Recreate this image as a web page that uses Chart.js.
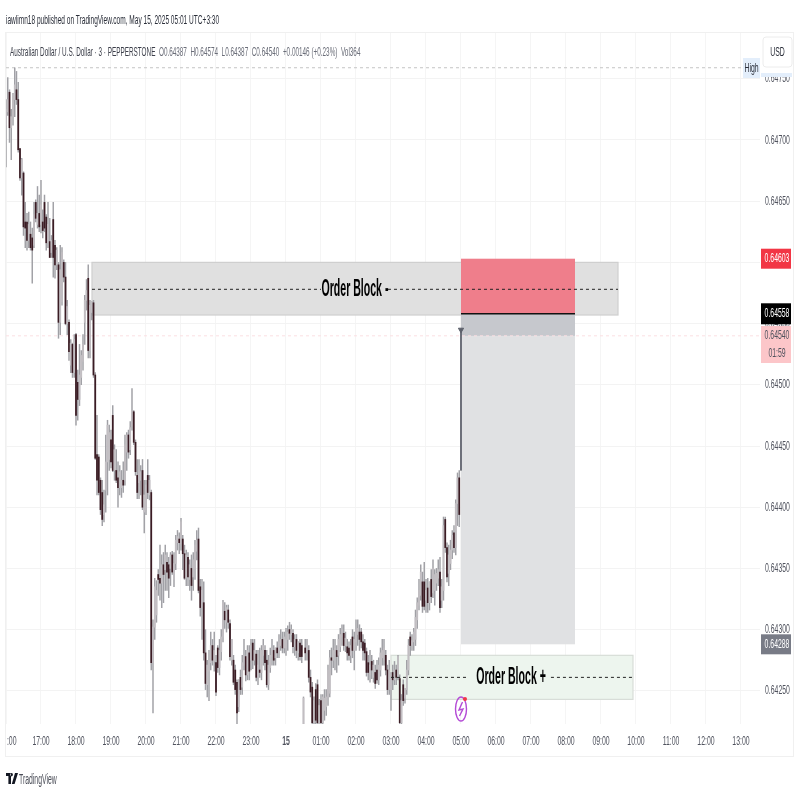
<!DOCTYPE html>
<html>
<head>
<meta charset="utf-8">
<title>AUDUSD 3m</title>
<script src="https://cdn.jsdelivr.net/npm/chart.js@4"></script>
<style>
body{margin:0;background:#fff;font-family:"Liberation Sans",sans-serif;}
#wrap{position:relative;width:800px;height:800px;overflow:hidden;filter:blur(.4px);}
canvas{position:absolute;left:0;top:0;}
#frame{position:absolute;left:5px;top:32px;width:789px;height:725px;border:1px solid #f0f0f0;box-sizing:border-box;pointer-events:none;}
.txt{position:absolute;white-space:pre;transform-origin:0 0;}
#pub{left:6px;top:12px;font-size:13px;color:#2a2e39;transform:scaleX(.504);}
#legend{left:10px;top:44px;font-size:13px;color:#3c3f4a;transform:scaleX(.49);}
#legend span{color:#6a6d78;}
#brand{left:19px;top:771px;font-size:14px;color:#4a4d57;transform:scaleX(.49);}
#logo{position:absolute;left:6px;top:773px;}
</style>
</head>
<body>
<div id="wrap">
<canvas id="myChart" width="800" height="800"></canvas>
<div id="frame"></div>
<div class="txt" id="pub">iawlimn18 published on TradingView.com, May 15, 2025 05:01 UTC+3:30</div>
<div class="txt" id="legend">Australian Dollar / U.S. Dollar · 3 · PEPPERSTONE  <span>O0.64387  H0.64574  L0.64387  C0.64540  +0.00146 (+0.23%)  Vol364</span></div>
<svg id="logo" width="12" height="12" viewBox="0 0 12 12"><path d="M0 0h5v11H2.4V3H0z M5.6 0a1.3 1.6 0 1 0 .01 0z M9 0h3L8.6 11H5.8z" fill="#131722"/></svg>
<div class="txt" id="brand">TradingView</div>
</div>
<script>
// prices are in points (1 point = 0.00001), one candle every 3 minutes from 16:00
var opens = [
64712,64723,64739,64710,64719,64733,64741,64733,64693,64669,64673,64633,64633,64618,64623,64620,64614,64649,64631,64640,
64631,64633,64649,64637,64616,64617,64608,64635,64614,64598,64598,64551,64568,64600,64588,64550,64551,64516,64533,64510,
64541,64502,64488,64506,64519,64551,64569,64587,64528,64559,64567,64508,64443,64441,64422,64412,64394,64414,64437,64439,
64455,64475,64430,64430,64424,64416,64416,64422,64422,64445,64459,64447,64466,64478,64453,64426,64420,64422,64430,64396,
64398,64426,64410,64412,64273,64302,64312,64345,64342,64338,64353,64349,64355,64353,64350,64361,64341,64354,64371,64374,
64370,64374,64362,64342,64359,64341,64350,64343,64350,64364,64374,64335,64318,64322,64281,64255,64266,64273,64287,64274,
64273,64285,64269,64282,64294,64315,64306,64316,64305,64275,64275,64267,64257,64237,64261,64253,64271,64278,64263,64281,
64275,64289,64275,64280,64261,64267,64265,64279,64283,64275,64255,64269,64278,64283,64277,64285,64281,64287,64292,64285,
64285,64292,64300,64296,64297,64286,64292,64281,64289,64287,64223,64285,64281,64283,64261,64253,64224,64251,64255,64223,
64242,64224,64234,64237,64245,64248,64277,64275,64279,64283,64279,64286,64294,64297,64287,64286,64285,64279,64294,64283,
64290,64296,64298,64298,64290,64289,64282,64273,64263,64274,64261,64265,64267,64259,64267,64277,64275,64279,64267,64251,
64251,64265,64259,64267,64261,64260,64224,64255,64244,64251,64267,64294,64287,64290,64292,64308,64320,64328,64339,64339,
64324,64334,64322,64341,64330,64332,64338,64342,64347,64324,64332,64390,64367,64346,64354,64365,64379,64367,64403,64424];
var highs = [
64733,64751,64741,64725,64738,64759,64756,64747,64693,64685,64674,64649,64640,64641,64633,64628,64649,64651,64662,64655,
64667,64643,64655,64639,64649,64636,64622,64649,64618,64612,64600,64614,64612,64602,64600,64569,64553,64537,64534,64541,
64542,64512,64533,64528,64541,64573,64586,64598,64569,64568,64569,64510,64475,64443,64424,64422,64414,64459,64471,64467,
64463,64483,64451,64447,64437,64434,64430,64437,64459,64461,64463,64470,64497,64479,64455,64439,64439,64434,64439,64422,
64422,64439,64426,64414,64308,64342,64340,64349,64369,64361,64363,64369,64363,64359,64363,64364,64363,64377,64381,64379,
64391,64377,64369,64365,64363,64357,64361,64363,64373,64381,64383,64341,64341,64339,64300,64275,64283,64298,64292,64298,
64279,64287,64292,64300,64324,64322,64320,64320,64308,64292,64279,64271,64259,64259,64267,64279,64292,64283,64287,64287,
64292,64292,64292,64283,64283,64285,64287,64292,64287,64283,64279,64285,64292,64287,64285,64290,64296,64300,64298,64298,
64301,64303,64306,64304,64300,64296,64296,64290,64292,64292,64245,64292,64292,64287,64267,64257,64245,64256,64259,64243,
64247,64247,64251,64251,64271,64283,64285,64292,64292,64287,64296,64301,64304,64304,64298,64292,64290,64292,64300,64298,
64308,64308,64304,64301,64296,64292,64285,64279,64283,64279,64275,64271,64275,64277,64285,64292,64292,64283,64271,64275,
64265,64271,64274,64271,64279,64263,64247,64259,64252,64275,64292,64298,64296,64301,64316,64326,64341,64353,64347,64355,
64341,64342,64339,64349,64357,64349,64350,64357,64359,64341,64392,64392,64371,64369,64373,64381,64385,64406,64428,64430];
var lows = [
64678,64720,64698,64684,64712,64719,64729,64690,64667,64655,64622,64612,64610,64612,64610,64583,64612,64633,64628,64625,
64624,64620,64625,64610,64612,64604,64604,64588,64587,64594,64538,64541,64565,64584,64549,64541,64520,64510,64506,64506,
64467,64471,64483,64500,64512,64533,64561,64522,64522,64553,64506,64439,64410,64410,64394,64385,64388,64396,64410,64430,
64432,64429,64422,64420,64400,64410,64408,64412,64418,64430,64440,64443,64463,64451,64426,64407,64407,64410,64398,64379,
64394,64407,64406,64267,64232,64292,64306,64328,64324,64318,64322,64332,64332,64326,64336,64345,64335,64349,64365,64362,
64365,64349,64341,64336,64336,64332,64324,64332,64341,64357,64330,64311,64292,64275,64251,64245,64242,64267,64271,64266,
64246,64265,64263,64275,64290,64301,64298,64301,64275,64271,64255,64247,64215,64233,64247,64247,64267,64258,64259,64259,
64267,64268,64271,64258,64255,64261,64259,64271,64267,64253,64251,64265,64271,64271,64271,64277,64277,64283,64281,64281,
64279,64283,64292,64290,64281,64279,64277,64275,64275,64273,64215,64275,64275,64257,64245,64215,64215,64215,64215,64215,
64215,64215,64226,64230,64238,64245,64263,64269,64267,64265,64271,64282,64287,64283,64282,64275,64275,64273,64277,64267,
64283,64287,64283,64285,64275,64275,64262,64259,64257,64260,64257,64252,64256,64255,64262,64271,64271,64263,64247,64247,
64234,64251,64255,64255,64259,64215,64215,64238,64240,64247,64263,64279,64283,64283,64287,64301,64316,64324,64314,64316,
64314,64314,64316,64322,64326,64320,64332,64336,64314,64318,64324,64363,64339,64336,64349,64358,64363,64361,64385,64384];
var closes = [
64725,64733,64710,64719,64737,64745,64733,64692,64669,64684,64629,64628,64618,64631,64612,64610,64639,64636,64640,64629,
64647,64626,64628,64616,64631,64604,64618,64604,64598,64610,64551,64594,64608,64588,64550,64564,64527,64534,64510,64537,
64475,64488,64508,64524,64533,64569,64577,64528,64565,64568,64508,64440,64422,64412,64398,64390,64402,64437,64467,64461,
64437,64430,64447,64422,64416,64429,64422,64418,64451,64459,64445,64465,64479,64453,64429,64412,64430,64429,64400,64410,
64418,64412,64422,64273,64302,64335,64332,64341,64338,64353,64345,64361,64347,64342,64361,64347,64354,64373,64376,64371,
64388,64362,64342,64361,64343,64353,64336,64357,64369,64373,64332,64318,64332,64281,64256,64271,64275,64287,64275,64283,
64249,64269,64283,64294,64322,64308,64318,64306,64278,64292,64257,64251,64232,64259,64251,64273,64279,64263,64283,64266,
64287,64275,64283,64261,64271,64265,64283,64287,64273,64255,64271,64279,64285,64275,64285,64281,64290,64292,64285,64294,
64292,64298,64297,64300,64286,64292,64283,64290,64278,64278,64244,64281,64287,64261,64249,64224,64242,64226,64224,64238,
64224,64245,64244,64245,64267,64277,64275,64283,64285,64278,64292,64296,64300,64287,64293,64281,64279,64287,64283,64292,
64300,64301,64292,64290,64283,64281,64265,64265,64271,64267,64271,64256,64259,64271,64281,64283,64285,64267,64251,64267,
64264,64259,64267,64261,64278,64224,64242,64242,64252,64267,64287,64287,64291,64298,64310,64322,64332,64347,64319,64319,
64332,64322,64339,64327,64350,64345,64346,64349,64318,64335,64385,64367,64343,64361,64365,64377,64367,64403,64424,64394];

var timeTickValues = [0,1,2,3,4,5,6,7,8,9,10,11,12,13,14,15,16,17,18,19,20,21];
var timeTickLabels = ["      :00","17:00","18:00","19:00","20:00","21:00","22:00","23:00","15","01:00","02:00","03:00","04:00","05:00","06:00","07:00","08:00","09:00","10:00","11:00","12:00","13:00"];
var priceTickValues = [64250,64300,64350,64400,64450,64500,64550,64600,64650,64700,64750];

// drawings: times are hours after 16:00
var bearBlock = {x0:2.457, x1:17.486, top:64600, bottom:64557, mid:64578, label:"Order Block -", labelX:9.97, gap:[9.0,10.914]};
var bullBlock = {x0:11.0, x1:17.914, top:64279, bottom:64243, mid:64261, label:"Order Block +", labelX:14.43, gap:[13.2,15.57]};
var tradeX = [13, 16.257];
var stopPrice = 64603, entryPrice = 64558, lastPrice = 64540, targetPrice = 64288, highPrice = 64759;
var pathPrices = [64545, 64430];

const FONT = '"Liberation Sans",sans-serif';
var wicks = [], bodies = [], bodyColors = [];
for (var i = 0; i < opens.length; i++) {
    wicks.push({x: i * 0.05, y: [lows[i], highs[i]]});
    bodies.push({x: i * 0.05, y: [opens[i], closes[i]]});
    bodyColors.push(closes[i] >= opens[i] ? '#c2bec2' : '#3b1c24');
}

function dashLine(from, to, price, color, order, width, dash) {
    return {type:'line', data:[{x:from,y:price},{x:to,y:price}], borderColor:color, borderWidth:width||1,
        borderDash:dash||[3,3], pointRadius:0, order:order};
}

var boxPlugin = {
    id:'boxes',
    beforeDatasetsDraw: function(chart) {
        var c = chart.ctx, X = chart.scales.x, Y = chart.scales.y;
        function box(x0, x1, top, bottom, fill, line) {
            var l = X.getPixelForValue(x0), r = X.getPixelForValue(x1);
            var t = Y.getPixelForValue(top), b = Y.getPixelForValue(bottom);
            c.fillStyle = fill;
            c.fillRect(l, t, r - l, b - t);
            if (line) { c.strokeStyle = line; c.lineWidth = 1.2; c.strokeRect(l, t, r - l, b - t); }
        }
        box(bearBlock.x0, bearBlock.x1, bearBlock.top, bearBlock.bottom, '#e0e0e0', '#cfcfcf');
        box(bullBlock.x0, bullBlock.x1, bullBlock.top, bullBlock.bottom, '#edf5ee', '#d8ddd8');
        box(tradeX[0], tradeX[1], entryPrice, targetPrice, '#e0e1e3');
        box(tradeX[0], tradeX[1], entryPrice, lastPrice, '#c6c8cd');
        box(tradeX[0], tradeX[1], stopPrice, entryPrice, '#ef7e8b');
    },
    afterDraw: function(chart) {
        var c = chart.ctx, X = chart.scales.x, Y = chart.scales.y;
        c.save();
        // order block captions
        c.fillStyle = '#000';
        c.textAlign = 'center';
        c.textBaseline = 'middle';
        c.narrow = 0.46;
        c.font = 'bold 23px ' + FONT;
        c.fillText(bearBlock.label, X.getPixelForValue(bearBlock.labelX), Y.getPixelForValue(bearBlock.mid));
        c.fillText(bullBlock.label, X.getPixelForValue(bullBlock.labelX), Y.getPixelForValue(bullBlock.mid));
        c.narrow = 0.53;

        // lightning marker under the 05:00 candle
        var ix = X.getPixelForValue(13), iy = 709;
        c.strokeStyle = '#b44bd6';
        c.lineWidth = 1.4;
        c.beginPath();
        c.ellipse(ix, iy, 5.5, 12, 0, 0, Math.PI * 2);
        c.stroke();
        c.beginPath();
        c.moveTo(ix + 1.5, iy - 7);
        c.lineTo(ix - 2, iy + 1);
        c.lineTo(ix + 2, iy);
        c.lineTo(ix - 1.5, iy + 7);
        c.stroke();
        c.fillStyle = '#f23645';
        c.beginPath();
        c.arc(ix + 4, iy - 10, 2, 0, Math.PI * 2);
        c.fill();

        // price tags on the right
        function tag(price, text, fill, color, h) {
            var y = Y.getPixelForValue(price);
            c.fillStyle = fill;
            c.fillRect(761, y - h / 2, 30, h);
            c.fillStyle = color;
            c.font = '13px ' + FONT;
            c.fillText(text, 777, y);
        }
        c.fillStyle = '#fcc6c9';
        c.fillRect(761, 326, 30, 37);
        c.fillStyle = '#50535e';
        c.font = '13px ' + FONT;
        c.fillText('0.64540', 777, Y.getPixelForValue(lastPrice));
        c.fillText('01:59', 777, 353);
        tag(stopPrice, '0.64603', '#f23645', '#fff', 20);
        tag(entryPrice, '0.64558', '#000', '#fff', 21);
        tag(targetPrice, '0.64288', '#787b86', '#fff', 20);

        // High tag and USD button
        c.fillStyle = '#e3eefb';
        c.fillRect(761, 73, 31, 4);
        c.fillRect(743, 58, 17, 20);
        c.fillStyle = '#2a2e39';
        c.fillText('High', 751.5, 68);
        c.fillStyle = '#fff';
        c.strokeStyle = '#ececec';
        c.lineWidth = 1;
        c.beginPath();
        c.roundRect(763, 37, 29, 30, 3);
        c.fill();
        c.stroke();
        c.fillStyle = '#2a2e39';
        c.fillText('USD', 777.5, 52);
        c.restore();
    }
};

var ctx = document.getElementById('myChart').getContext('2d');
// the reference is squeezed sideways, so squeeze all canvas text the same way
ctx.narrow = 0.53;
var plainFillText = ctx.fillText;
ctx.fillText = function(text, x, y) {
    this.save();
    this.translate(x, y);
    this.scale(this.narrow, 1);
    plainFillText.call(this, text, 0, 0);
    this.restore();
};

var chart = new Chart(ctx, {
    type: 'bar',
    data: {
        datasets: [
            {label:'wick', data:wicks, backgroundColor:'#a0a0a5', barThickness:0.8, grouped:false, order:6},
            {label:'body', data:bodies, backgroundColor:bodyColors, barThickness:1.1, minBarLength:1, grouped:false, order:5},
            dashLine(0, 21.1, highPrice, '#c4c4c4', 7),
            dashLine(0, 21.543, lastPrice, '#fbdfe2', 7),
            dashLine(bearBlock.x0, bearBlock.gap[0], bearBlock.mid, '#222', 2),
            dashLine(bearBlock.gap[1], bearBlock.x1, bearBlock.mid, '#222', 2),
            dashLine(bullBlock.x0, bullBlock.gap[0], bullBlock.mid, '#222', 2),
            dashLine(bullBlock.gap[1], bullBlock.x1, bullBlock.mid, '#222', 2),
            dashLine(tradeX[0], tradeX[1], entryPrice, '#111', 1, 1.5, []),
            {type:'line', data:[{x:13,y:pathPrices[0]},{x:13,y:pathPrices[1]}], borderColor:'#5d606b', borderWidth:1,
                pointRadius:[3,0], pointStyle:'triangle', rotation:180, pointBackgroundColor:'#5d606b', order:1}
        ]
    },
    plugins: [boxPlugin],
    options: {
        responsive: false,
        animation: false,
        layout: {padding: {left:6, top:32}},
        plugins: {legend: {display:false}, tooltip: {enabled:false}},
        scales: {
            x: {
                type: 'linear',
                offset: false,
                min: 0,
                max: 21.543,
                afterFit: function(s) { s.height = 76; s.paddingLeft = 0; s.paddingRight = 0; },
                afterBuildTicks: function(s) { s.ticks = timeTickValues.map(function(v){ return {value:v}; }); },
                grid: {color:'#f5f5f5', drawTicks:false, offset:false},
                border: {display:false},
                ticks: {
                    autoSkip: false,
                    maxRotation: 0,
                    padding: 10,
                    color: '#50535e',
                    font: function(c) {
                        return c.index === 8 ? {family:FONT, size:13, weight:'bold'} : {family:FONT, size:13};
                    },
                    callback: function(v, idx) { return timeTickLabels[idx]; }
                }
            },
            y: {
                position: 'right',
                min: 64222.9,
                max: 64788.2,
                afterFit: function(s) { s.width = 40; s.paddingTop = 0; s.paddingBottom = 0; },
                afterBuildTicks: function(s) { s.ticks = priceTickValues.map(function(v){ return {value:v}; }); },
                grid: {color:'#f3f3f3', drawTicks:false},
                border: {display:false},
                ticks: {
                    padding: 5,
                    color: '#50535e',
                    font: {family:FONT, size:13},
                    callback: function(v) { return (v / 100000).toFixed(5); }
                }
            }
        }
    }
});
</script>
</body>
</html>
